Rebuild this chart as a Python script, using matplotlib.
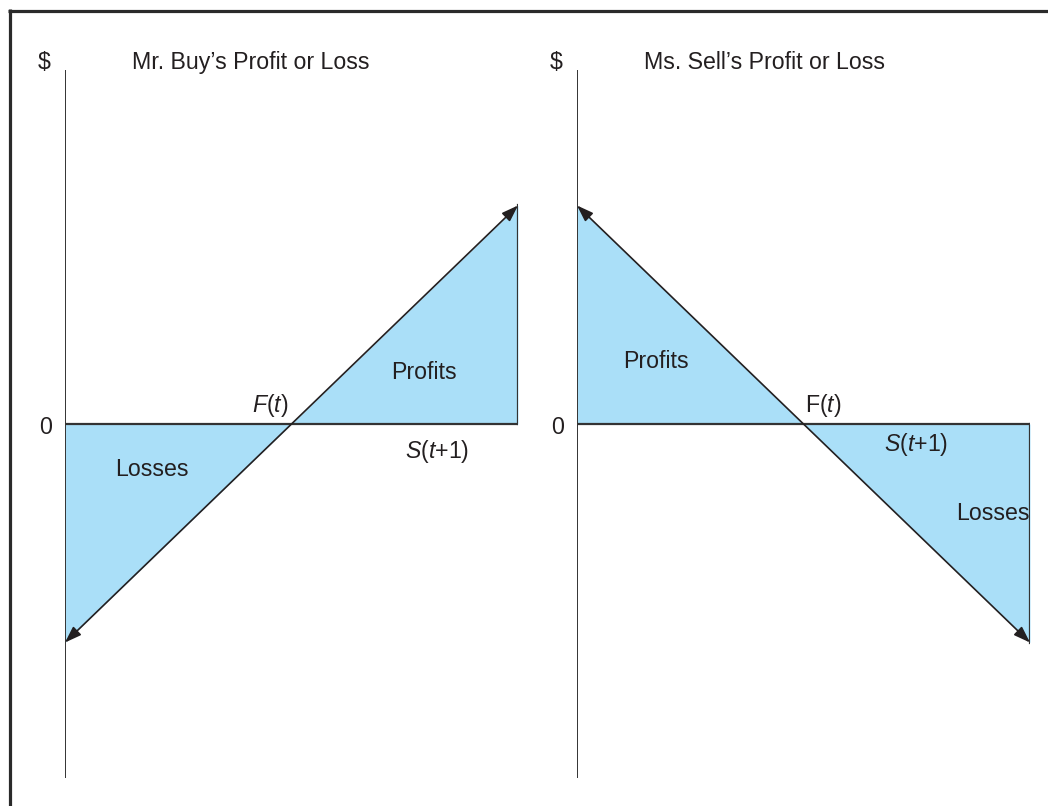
import matplotlib.pyplot as plt
from matplotlib.lines import Line2D

plt.rcParams['font.family'] = ['Liberation Sans', 'DejaVu Sans']
plt.rcParams['mathtext.fontset'] = 'custom'
plt.rcParams['mathtext.it'] = 'Liberation Sans:italic'
plt.rcParams['mathtext.rm'] = 'Liberation Sans'

# --- datos ---
spot_price = [0, 50, 100]          # S(t+1), F(t) = 50
buy_profit = [-50, 0, 50]          # Mr. Buy (long)
sell_profit = [50, 0, -50]         # Ms. Sell (short)
titles = ["Mr. Buy\u2019s Profit or Loss", "Ms. Sell\u2019s Profit or Loss"]

FILL = '#AADFF8'
INK = '#231F20'
W, H = 1048, 806

fig = plt.figure(figsize=(W / 100, H / 100), dpi=100)

# marco (solo arriba e izquierda)
fig.add_artist(Line2D([8 / W, 1], [1 - 10.5 / H, 1 - 10.5 / H], color='#2a2a2a', lw=2.3,
                      transform=fig.transFigure, solid_capstyle='butt'))
fig.add_artist(Line2D([9.5 / W, 9.5 / W], [0, 1 - 9 / H], color='#2a2a2a', lw=2.3,
                      transform=fig.transFigure, solid_capstyle='butt'))


def panel(x0, profit, title, upright_f, labels):
    ax = fig.add_axes([x0 / W, 1 - 778 / H, 453 / W, 708 / H])
    ax.set_xlim(0, 100)
    ax.set_ylim(-81, 81)
    ax.axis('off')

    # zonas de ganancia / pérdida
    ax.fill_between(spot_price, profit, 0, color=FILL, lw=0)

    # ejes y línea de cero
    ax.plot([0, 0], [-81, 81], color='#333333', lw=1.4, solid_capstyle='butt')
    ax.plot([spot_price[0], spot_price[-1]], [0, 0], color='#333333', lw=1.6)
    ax.plot([spot_price[-1], spot_price[-1]], [0, profit[-1]], color='#333333', lw=1.6)

    # línea de pago con flechas en ambos extremos
    ax.annotate('', xy=(spot_price[-1], profit[-1]), xytext=(spot_price[0], profit[0]),
                arrowprops=dict(arrowstyle='<|-|>,head_length=1.0,head_width=0.35',
                                color=INK, lw=1.2, shrinkA=0, shrinkB=0))

    fs = 16.7
    dy = -0.7
    ax.text(-4.5, 83.5 + dy, '$', ha='center', va='center', fontsize=fs, color=INK, clip_on=False)
    ax.text(14.9, 83.5 + dy, title, ha='left', va='center', fontsize=fs, color=INK, clip_on=False)
    ax.text(-4.3, 0 + dy, '0', ha='center', va='center', fontsize=fs, color=INK, clip_on=False)

    fx, fy = labels['F']
    ftxt = r'F($\mathit{t}$)' if upright_f else r'$\mathit{F}$($\mathit{t}$)'
    ax.text(fx, fy + dy, ftxt, ha='center', va='center', fontsize=fs, color=INK)
    sx, sy = labels['S']
    ax.text(sx, sy + dy, r'$\mathit{S}$($\mathit{t}$+1)', ha='center', va='center', fontsize=fs, color=INK)
    px, py = labels['Profits']
    ax.text(px, py + dy, 'Profits', ha='center', va='center', fontsize=fs, color=INK)
    lx, ly = labels['Losses']
    ax.text(lx, ly + dy, 'Losses', ha='center', va='center', fontsize=fs, color=INK)


panel(65, buy_profit, titles[0], False,
      {'F': (45.3, 5.0), 'S': (82.1, -5.7), 'Profits': (79.2, 12.4), 'Losses': (19.2, -9.8)})
panel(577, sell_profit, titles[1], True,
      {'F': (54.4, 5.0), 'S': (74.8, -3.9), 'Profits': (17.4, 15.1), 'Losses': (91.8, -19.7)})

fig.savefig('out.png', dpi=100, facecolor='white')
